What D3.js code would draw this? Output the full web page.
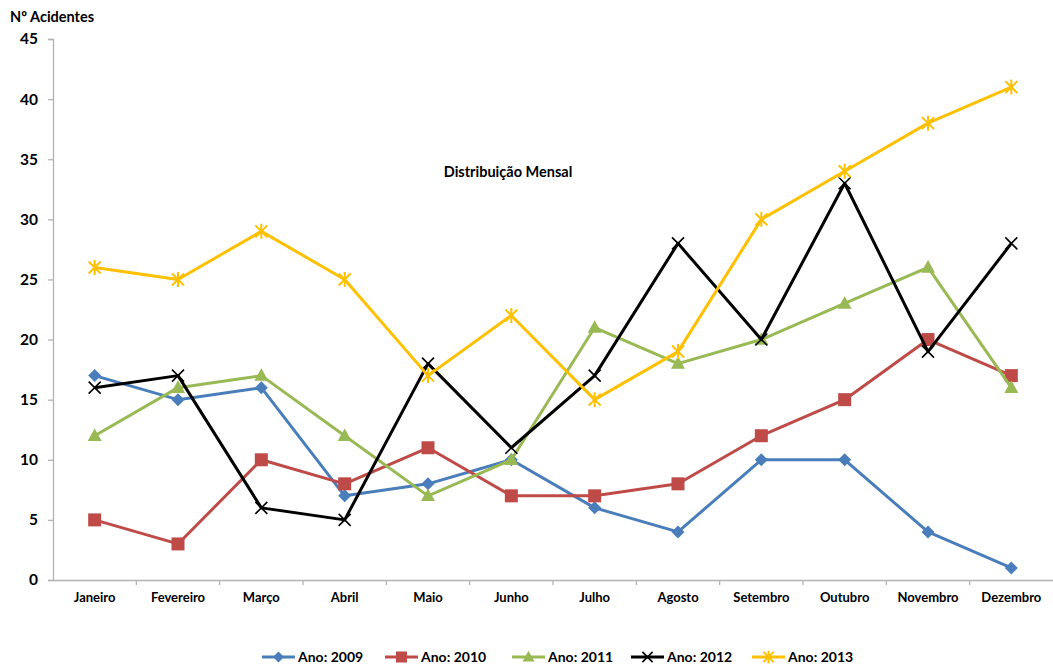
<!DOCTYPE html>
<html>
<head>
<meta charset="utf-8">
<script src="https://cdn.jsdelivr.net/npm/d3@7"></script>
<style>
  html, body { margin: 0; padding: 0; background: #fff; }
  svg { display: block; font-family: Lato, "Open Sans", sans-serif; font-weight: bold; }
</style>
</head>
<body>
<svg id="chart" width="1053" height="665"></svg>
<script>
// Monthly accident counts by year
const months = ["Janeiro", "Fevereiro", "Março", "Abril", "Maio", "Junho",
                "Julho", "Agosto", "Setembro", "Outubro", "Novembro", "Dezembro"];
const years = ["Ano: 2009", "Ano: 2010", "Ano: 2011", "Ano: 2012", "Ano: 2013"];
const v2009 = [17, 15, 16, 7, 8, 10, 6, 4, 10, 10, 4, 1];
const v2010 = [5, 3, 10, 8, 11, 7, 7, 8, 12, 15, 20, 17];
const v2011 = [12, 16, 17, 12, 7, 10, 21, 18, 20, 23, 26, 16];
const v2012 = [16, 17, 6, 5, 18, 11, 17, 28, 20, 33, 19, 28];
const v2013 = [26, 25, 29, 25, 17, 22, 15, 19, 30, 34, 38, 41];
const yTicks = [0, 5, 10, 15, 20, 25, 30, 35, 40, 45];

const seriesValues = [v2009, v2010, v2011, v2012, v2013];
const colors = ["#4a7ebb", "#be4b48", "#98b954", "#000000", "#ffc000"];
const markers = ["diamond", "square", "triangle", "cross", "star"];

const svg = d3.select("#chart");
const plot = { left: 53, right: 1053, top: 39, bottom: 580 };

const x = d3.scaleBand().domain(months).range([plot.left, plot.right]);
const y = d3.scaleLinear().domain([0, 45]).range([plot.bottom, plot.top]);

// Axes
const yAxis = svg.append("g")
  .attr("transform", `translate(${plot.left},0)`)
  .call(d3.axisLeft(y).tickValues(yTicks).tickSize(5).tickPadding(10));
const xAxis = svg.append("g")
  .attr("transform", `translate(0,${plot.bottom})`)
  .call(d3.axisBottom(x).tickSize(0).tickPadding(15));

[yAxis, xAxis].forEach(g => {
  g.select(".domain").attr("stroke", "#b3b3b3").attr("stroke-width", 1.3);
  g.selectAll(".tick line").attr("stroke", "#b3b3b3").attr("stroke-width", 1.3);
  g.selectAll("text").attr("fill", "#000").attr("font-family", "Lato, sans-serif").attr("font-weight", "bold");
});
yAxis.selectAll("text").attr("font-size", 15.5);
xAxis.selectAll("text").attr("font-size", 13).attr("dy", "0.5em");

// Category separator ticks between months
xAxis.selectAll(".sep")
  .data(months.slice(1))
  .enter().append("line")
  .attr("x1", d => x(d)).attr("x2", d => x(d))
  .attr("y1", 0).attr("y2", 5)
  .attr("stroke", "#b3b3b3").attr("stroke-width", 1.3);

// Marker shapes
function markerPath(type, s) {
  switch (type) {
    case "diamond": return `M0,${-s}L${s},0L0,${s}L${-s},0Z`;
    case "square": return `M${-s},${-s}H${s}V${s}H${-s}Z`;
    case "triangle": return `M0,${-s * 1.05}L${s},${s * 0.75}L${-s},${s * 0.75}Z`;
    case "cross": return `M${-s},${-s}L${s},${s}M${-s},${s}L${s},${-s}`;
    case "star": return `M${-s},${-s}L${s},${s}M${-s},${s}L${s},${-s}M0,${-s * 1.25}V${s * 1.25}`;
  }
}
function drawMarker(g, type, color, cx, cy, scale) {
  const k = scale || 1;
  const sizes = { diamond: 6.5, square: 6.5, triangle: 7, cross: 6, star: 6 };
  const p = g.append("path")
    .attr("transform", `translate(${cx},${cy})`)
    .attr("d", markerPath(type, sizes[type] * k));
  if (type === "cross" || type === "star") {
    p.attr("fill", "none").attr("stroke", color).attr("stroke-width", type === "star" ? 2 : 1.6);
  } else {
    p.attr("fill", color).attr("stroke", "none");
  }
}

// Series lines and markers
const line = d3.line()
  .x((d, i) => x(months[i]) + x.bandwidth() / 2)
  .y(d => y(d));

seriesValues.forEach((vals, si) => {
  const g = svg.append("g");
  g.append("path")
    .datum(vals)
    .attr("d", line)
    .attr("fill", "none")
    .attr("stroke", colors[si])
    .attr("stroke-width", 3)
    .attr("stroke-linejoin", "round");
  vals.forEach((v, i) => {
    drawMarker(g, markers[si], colors[si], x(months[i]) + x.bandwidth() / 2, y(v));
  });
});

// Titles
svg.append("text")
  .attr("x", 10).attr("y", 22)
  .attr("font-size", 14.5)
  .text("Nº Acidentes");
svg.append("text")
  .attr("x", 508).attr("y", 177)
  .attr("text-anchor", "middle")
  .attr("font-size", 14.5)
  .text("Distribuição Mensal");

// Legend
const legendX = [262, 385, 512, 631, 752];
const legend = svg.append("g");
years.forEach((name, i) => {
  const lx = legendX[i];
  const ly = 657;
  legend.append("line")
    .attr("x1", lx).attr("x2", lx + 33)
    .attr("y1", ly).attr("y2", ly)
    .attr("stroke", colors[i]).attr("stroke-width", 3);
  drawMarker(legend, markers[i], colors[i], lx + 16.5, ly, 0.85);
  legend.append("text")
    .attr("x", lx + 36).attr("y", ly)
    .attr("dy", "0.35em")
    .attr("font-size", 14)
    .text(name);
});
</script>
</body>
</html>
